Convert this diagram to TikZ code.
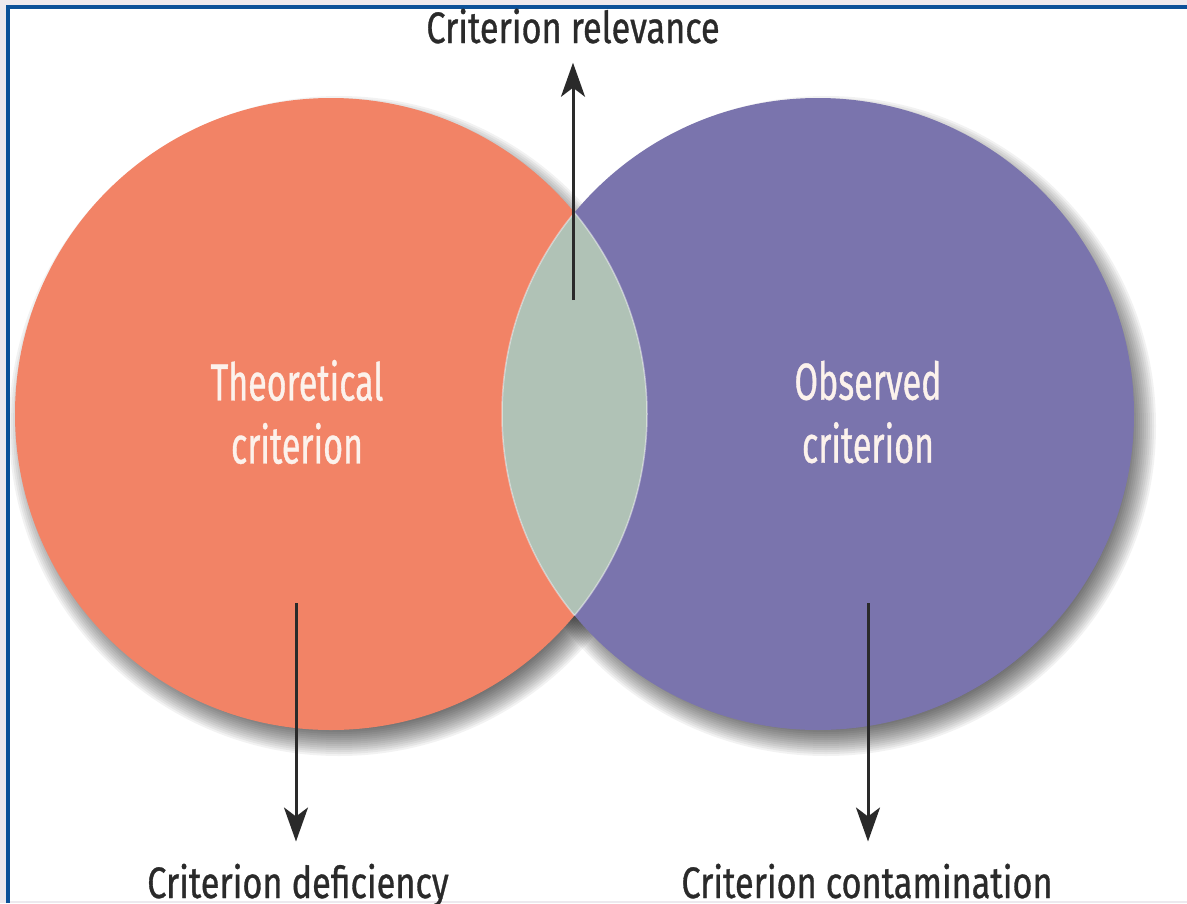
\documentclass[tikz,border=0pt]{standalone}
\usepackage{fontspec}
\usetikzlibrary{arrows.meta,calc}
\newfontfamily\lblfont[FakeStretch=0.78,FakeBold=0.7]{Fira Sans}
\newfontfamily\infont[FakeStretch=0.655,FakeBold=0.7]{Fira Sans}
\definecolor{bgray}{HTML}{EDE9EE}
\definecolor{bblue}{HTML}{0B5199}
\definecolor{corange}{HTML}{F28366}
\definecolor{cpurple}{HTML}{7A74AD}
\definecolor{clens}{HTML}{B0C2B6}
\definecolor{ink}{HTML}{2A2A2A}
\definecolor{cream}{HTML}{FCF2EC}
\tikzset{
  disc/.style={circle, minimum size=632pt, inner sep=0pt},
  intext/.style={align=center, text=cream, inner sep=0pt, font=\infont\fontsize{52}{63}\selectfont},
  lbl/.style={text=ink, inner sep=0pt, font=\lblfont\fontsize{44}{50}\selectfont},
  arr/.style={draw=ink, line width=3pt, -{Stealth[length=34pt,width=24pt,inset=9pt]}}
}
\begin{document}
\begin{tikzpicture}[x=1pt,y=-1pt]
\useasboundingbox (0,0) rectangle (1187,903);
\fill[bgray] (0,0) rectangle (1187,903);
\fill[white] (8,7) rectangle (1187,901);
\draw[bblue, line width=4pt] (8,903) -- (8,7) -- (1187,7);
% soft shadows
\foreach \k in {0,...,15} {
  \fill[black, opacity=0.05] (339,426) circle ({(300+2*\k)*1pt});
  \fill[black, opacity=0.05] (826,426) circle ({(300+2*\k)*1pt});
}
% circles
\node[disc, fill=corange] (theo) at (331,414) {};
\node[disc, fill=cpurple] (obs) at (818,414) {};
% lens
\begin{scope}
  \clip (theo.center) circle (316pt);
  \fill[clens] (obs.center) circle (316pt);
  \draw[white, opacity=0.45, line width=1.5pt] (obs.center) circle (316pt);
\end{scope}
\begin{scope}
  \clip (obs.center) circle (316pt);
  \draw[white, opacity=0.45, line width=1.5pt] (theo.center) circle (316pt);
\end{scope}
% texts
\node[intext] (theotext) at (297,412) {Theoretical\\criterion};
\node[intext] (obstext) at (868,412) {Observed\\criterion};
\node[lbl, anchor=base] (relev) at (573,43) {Criterion relevance};
\node[lbl, anchor=base] (defic) at (298,898) {Criterion deficiency};
\node[lbl, anchor=base] (contam) at (867,898) {Criterion contamination};
% arrows
\coordinate (relStart) at (573,300);
\coordinate (defStart) at (296,603);
\coordinate (conStart) at (868,603);
\draw[arr, shorten >=19pt] (relStart) -- (relStart |- relev.south);
\draw[arr, shorten >=22pt] (defStart) -- (defStart |- defic.north);
\draw[arr, shorten >=22pt] (conStart) -- (conStart |- contam.north);
\end{tikzpicture}
\end{document}
